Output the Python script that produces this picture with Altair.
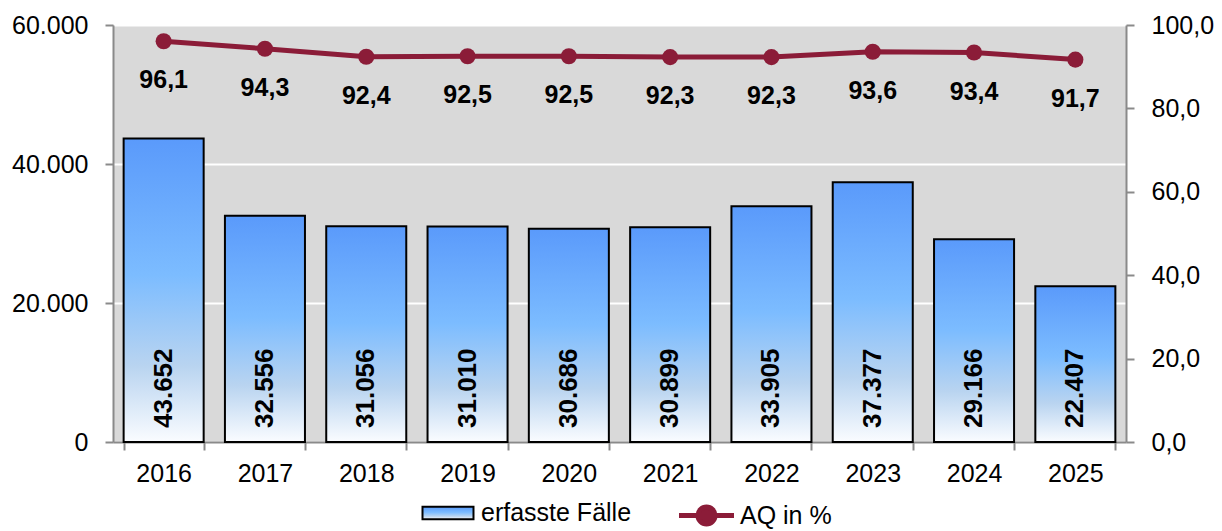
import altair as alt
import pandas as pd

years = ["2016", "2017", "2018", "2019", "2020", "2021", "2022", "2023", "2024", "2025"]
faelle = [43652, 32556, 31056, 31010, 30686, 30899, 33905, 37377, 29166, 22407]
aq = [96.1, 94.3, 92.4, 92.5, 92.5, 92.3, 92.3, 93.6, 93.4, 91.7]

df = pd.DataFrame({
    "Jahr": years,
    "Faelle": faelle,
    "AQ": aq,
    "s1": ["erfasste Fälle"] * len(years),
    "s2": ["AQ in %"] * len(years),
})

FONT = "Arial, Liberation Sans, sans-serif"
RED = "#8b1c38"
gradient = {
    "gradient": "linear", "x1": 0, "y1": 0, "x2": 0, "y2": 1,
    "stops": [
        {"offset": 0, "color": "#5a9afb"},
        {"offset": 0.45, "color": "#7cbcff"},
        {"offset": 0.75, "color": "#b9d4f0"},
        {"offset": 1, "color": "#fafcff"},
    ],
}

x_enc = alt.X(
    "Jahr:N",
    title=None,
    scale=alt.Scale(paddingInner=0.21, paddingOuter=0.105),
    axis=alt.Axis(labelAngle=0, tickBand="extent", labelPadding=11, grid=False),
)

base = alt.Chart(df).encode(x=x_enc)

bars = base.mark_bar(fill=gradient, strokeWidth=2).encode(
    y=alt.Y(
        "Faelle:Q",
        title=None,
        scale=alt.Scale(domain=[0, 60000]),
        axis=alt.Axis(
            values=[0, 20000, 40000, 60000],
            labelExpr="replace(format(datum.value, ',d'), ',', '.')",
            grid=True, gridColor="white", gridWidth=2, labelPadding=17,
        ),
    ),
    stroke=alt.Stroke(
        "s1:N",
        title=None,
        scale=alt.Scale(range=["black"]),
        legend=alt.Legend(
            orient="none", legendX=321, legendY=474,
            symbolType="M-2,-0.5H2V0.5H-2Z",
            symbolSize=650,
            symbolFillColor="#a8cdf7",
            symbolStrokeColor="black",
            symbolStrokeWidth=2,
            labelOffset=19,
        ),
    ),
)

bar_text = base.transform_calculate(
    lab="replace(format(datum.Faelle, ',d'), ',', '.')"
).mark_text(
    angle=270, align="left", baseline="middle", dx=14,
    fontSize=26, fontWeight="bold", font=FONT, color="black",
).encode(
    y=alt.datum(0),
    text="lab:N",
)

left = alt.layer(bars, bar_text)

y_right = alt.Y(
    "AQ:Q",
    title=None,
    scale=alt.Scale(domain=[0, 100]),
    axis=alt.Axis(
        orient="right",
        values=[0, 20, 40, 60, 80, 100],
        labelExpr="replace(format(datum.value, '.1f'), '.', ',')",
        grid=False, labelPadding=17,
    ),
)

line = base.mark_line(strokeWidth=5).encode(
    y=y_right,
    color=alt.Color(
        "s2:N",
        title=None,
        scale=alt.Scale(range=[RED]),
        legend=alt.Legend(
            orient="none", legendX=577, legendY=474,
            symbolType="M-2,0H2M-0.62,0A0.62,0.62,0,1,1,0.62,0A0.62,0.62,0,1,1,-0.62,0Z",
            symbolSize=756,
            symbolFillColor=RED,
            symbolStrokeColor=RED,
            symbolStrokeWidth=5,
            labelOffset=17,
        ),
    ),
)

points = base.mark_point(filled=True, size=260, opacity=1, color=RED).encode(y=y_right)

line_text = base.transform_calculate(
    lab="replace(format(datum.AQ, '.1f'), '.', ',')"
).mark_text(
    baseline="top", dy=27, fontSize=25, fontWeight="bold", font=FONT, color="black",
).encode(
    y=y_right,
    text="lab:N",
)

right = alt.layer(line, points, line_text)

chart = alt.layer(left, right).resolve_scale(
    y="independent", color="independent", stroke="independent"
).properties(
    width=1013,
    height=417,
    padding={"left": 3, "top": 5, "right": 0, "bottom": 0},
).configure_view(
    fill="#d9d9d9", stroke=None,
).configure_axis(
    labelFont=FONT, labelFontSize=25, labelColor="black",
    domainColor="#8a8a8a", tickColor="#8a8a8a", domainWidth=2, tickWidth=2, tickSize=8,
).configure_legend(
    labelFont=FONT, labelFontSize=25, labelColor="black",
    padding=0, columnPadding=0,
)

chart.save("out.html", embed_options={"renderer": "svg", "actions": False})
